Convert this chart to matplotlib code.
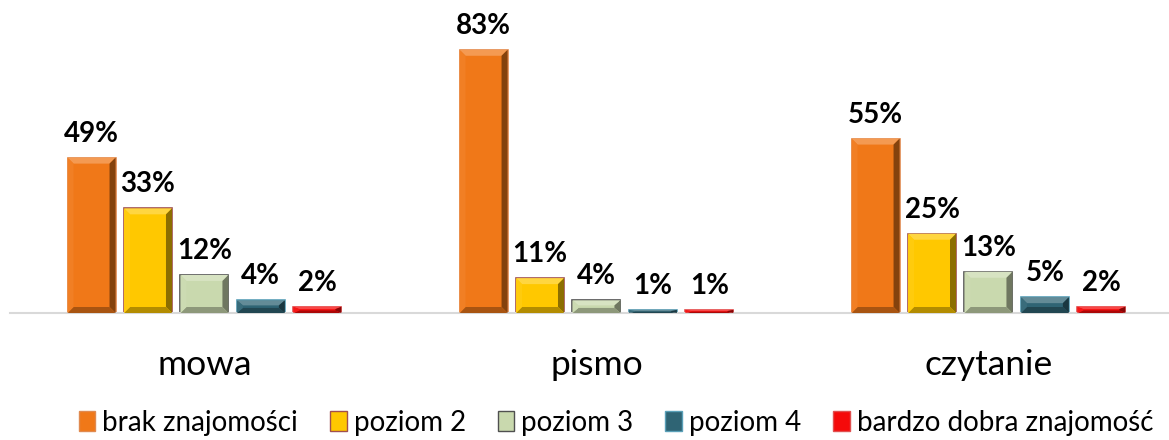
import numpy as np
import matplotlib.pyplot as plt
from matplotlib.patches import Polygon, Rectangle
from matplotlib.colors import to_rgb

plt.rcParams["font.family"] = ["Lato", "DejaVu Sans"]

# data
categories = ["mowa", "pismo", "czytanie"]
series = ["brak znajomości", "poziom 2", "poziom 3", "poziom 4", "bardzo dobra znajomość"]
brak = [49, 83, 55]
poziom2 = [33, 11, 25]
poziom3 = [12, 4, 13]
poziom4 = [4, 1, 5]
bardzo_dobra = [2, 1, 2]
values = [brak, poziom2, poziom3, poziom4, bardzo_dobra]

colors = ["#F07818", "#FFC800", "#C9D9AE", "#2F6474", "#F50A0A"]
edges = ["#E08A50", "#A05050", "#505050", "#5AA0B8", "#E05050"]

W, H = 11.69, 4.40
fig = plt.figure(figsize=(W, H), dpi=100)
ax = fig.add_axes([10 / 1169, 127 / 440, 1158 / 1169, 313 / 440])

x = np.arange(len(categories))
step = 0.144
width = 0.1224
ax.set_xlim(-0.496, 2.458)
ax.set_ylim(0, 98.7)

# pixel -> data sizes for the bevel
px_x = (2.458 + 0.496) / 1158
px_y = 98.7 / 313


def shade(c, f):
    r, g, b = to_rgb(c)
    if f > 0:
        return (r + (1 - r) * f, g + (1 - g) * f, b + (1 - b) * f)
    return (r * (1 + f), g * (1 + f), b * (1 + f))


for i, (name, vals) in enumerate(zip(series, values)):
    pos = x + (i - 2) * step
    bars = ax.bar(pos, vals, width, color=colors[i], edgecolor=edges[i],
                  linewidth=1.2, label=name, zorder=2)
    for b, v in zip(bars, vals):
        x0, x1 = b.get_x(), b.get_x() + b.get_width()
        y0, y1 = 0, b.get_height()
        by = min(6 * px_y, (y1 - y0) / 2.5)
        bx = min(6 * px_x, (x1 - x0) / 2.5)
        ix0, ix1 = x0 + bx, x1 - bx
        iy0, iy1 = y0 + by, y1 - by
        c = colors[i]
        faces = [
            ([(x0, y1), (x1, y1), (ix1, iy1), (ix0, iy1)], shade(c, 0.25)),
            ([(x1, y1), (x1, y0), (ix1, iy0), (ix1, iy1)], shade(c, -0.45)),
            ([(x0, y0), (x1, y0), (ix1, iy0), (ix0, iy0)], shade(c, -0.3)),
            ([(x0, y0), (x0, y1), (ix0, iy1), (ix0, iy0)], shade(c, 0.05)),
        ]
        for pts, fc in faces:
            ax.add_patch(Polygon(pts, closed=True, facecolor=fc,
                                 edgecolor="none", zorder=3))
        ax.text(b.get_x() + b.get_width() / 2, v + 11 * px_y, f"{v}%",
                ha="center", va="bottom", fontsize=20, fontweight="bold",
                color="black", zorder=4)

for s in ["top", "left", "right"]:
    ax.spines[s].set_visible(False)
ax.spines["bottom"].set_color("#D9D9D9")
ax.spines["bottom"].set_linewidth(1.5)
ax.set_yticks([])
ax.set_xticks(x)
ax.set_xticklabels(categories, fontsize=25.5)
ax.tick_params(axis="x", length=0, pad=26)

handles = [Rectangle((0, 0), 1, 1, facecolor=colors[i], edgecolor=edges[i])
           for i in range(len(series))]
fig.legend(handles, series, loc="center", bbox_to_anchor=(0.527, 1 - 423 / 440),
           ncol=5, frameon=False, fontsize=20, handlelength=0.6,
           handleheight=0.75, handletextpad=0.25, columnspacing=1.15,
           borderaxespad=0)

fig.savefig("out.png", dpi=100)
